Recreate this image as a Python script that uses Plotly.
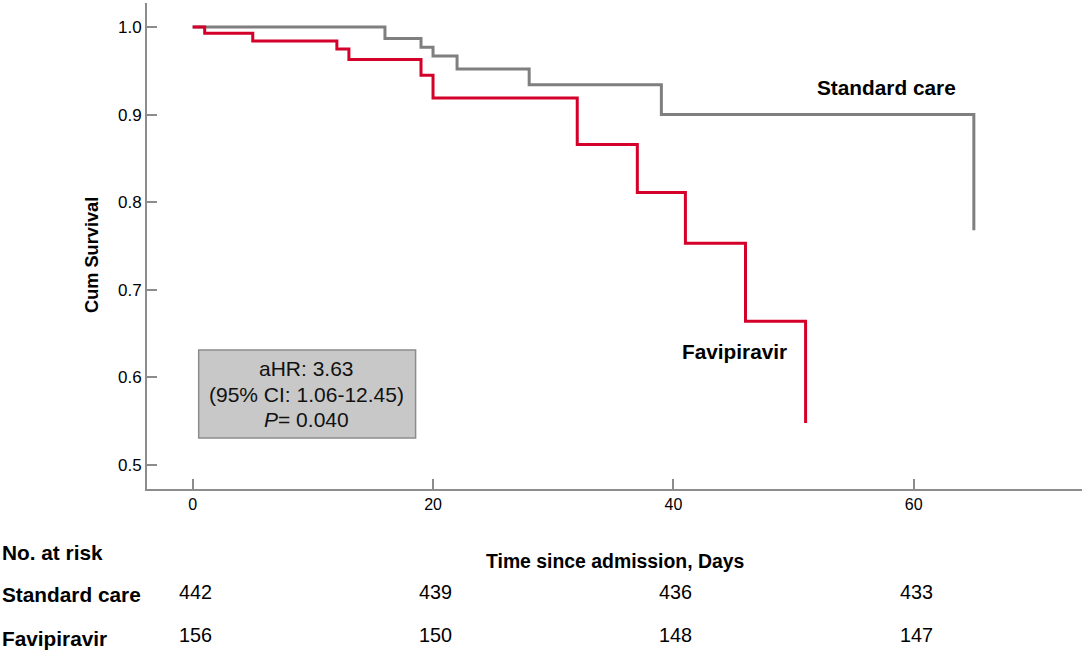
import plotly.graph_objects as go

# Kaplan-Meier steps
std_days = [0, 16, 19, 20, 22, 28, 39, 65]
std_surv = [1.0, 0.987, 0.977, 0.967, 0.952, 0.934, 0.900, 0.768]
fav_days = [0, 1, 5, 12, 13, 19, 20, 32, 37, 41, 46, 51]
fav_surv = [1.0, 0.993, 0.984, 0.975, 0.963, 0.945, 0.919, 0.866, 0.811, 0.753, 0.664, 0.548]

# number at risk table
risk_days = [0, 20, 40, 60]
risk_std = [442, 439, 436, 433]
risk_fav = [156, 150, 148, 147]

xticks = [0, 20, 40, 60]
yticks = [0.5, 0.6, 0.7, 0.8, 0.9, 1.0]

stat_lines = ["aHR: 3.63", "(95% CI: 1.06-12.45)", "<i>P</i>= 0.040"]

FONT = "Liberation Sans, Arial, sans-serif"
AXIS_GREY = "#8c8c8c"


def note(text, x, y, size, xref="paper", yref="paper", xanchor="center", angle=0,
         color="black"):
    fig.add_annotation(x=x, y=y, xref=xref, yref=yref, text=text, showarrow=False,
                       xanchor=xanchor, yanchor="middle", textangle=angle,
                       font=dict(size=size, color=color, family=FONT))


fig = go.Figure()
fig.add_trace(go.Scatter(x=std_days, y=std_surv, mode="lines", line_shape="hv",
                         line=dict(color="#7f7f7f", width=3), name="Standard care"))
fig.add_trace(go.Scatter(x=fav_days, y=fav_surv, mode="lines", line_shape="hv",
                         line=dict(color="#d4002a", width=3), name="Favipiravir"))

# stat box
fig.add_shape(type="rect", xref="x", yref="y", x0=0.5, x1=18.55, y0=0.5308, y1=0.6313,
              fillcolor="#c8c8c8", line=dict(color="#8c8c8c", width=1.5), layer="below")
for line, yy in zip(stat_lines, [0.6096, 0.5810, 0.5525]):
    note(line, 9.5, yy, 21, xref="x", yref="y", color="#111111")

# curve labels
note("<b>Standard care</b>", 57.7, 0.9315, 20.8, xref="x", yref="y")
note("<b>Favipiravir</b>", 45.05, 0.629, 20.8, xref="x", yref="y")

# axis titles
note("<b>Cum Survival</b>", -55 / 935, 0.4815, 18.2, angle=-90)
note("<b>Time since admission, Days</b>", 0.5, -0.148, 19.4)

# risk table
row_lab_x = -147 / 935
note("<b>No. at risk</b>", row_lab_x, -0.130, 20.8, xanchor="left")
note("<b>Standard care</b>", row_lab_x, -0.218, 20.8, xanchor="left")
note("<b>Favipiravir</b>", row_lab_x, -0.307, 20.8, xanchor="left")
for d, a, b in zip(risk_days, risk_std, risk_fav):
    note(str(a), d + 0.2, -0.212, 19.8, xref="x")
    note(str(b), d + 0.2, -0.300, 19.8, xref="x")

fig.update_layout(
    width=1084, height=652,
    margin=dict(l=147, r=2, t=3, b=163),
    paper_bgcolor="white", plot_bgcolor="white",
    showlegend=False,
    xaxis=dict(range=[-3.8, 74], tickvals=xticks, showgrid=False, zeroline=False,
               showline=True, linecolor=AXIS_GREY, linewidth=2,
               ticks="inside", ticklen=10, tickcolor=AXIS_GREY, tickwidth=1.5,
               tickfont=dict(size=16, color="black", family=FONT)),
    yaxis=dict(range=[0.4726, 1.0274], tickvals=yticks, tickformat=".1f",
               showgrid=False, zeroline=False,
               showline=True, linecolor=AXIS_GREY, linewidth=2,
               ticks="inside", ticklen=10, tickcolor=AXIS_GREY, tickwidth=1.5,
               tickfont=dict(size=17, color="black", family=FONT)),
)

fig.write_html("out.html", config={"displayModeBar": False},
               post_script="document.body.style.margin='0px';")
